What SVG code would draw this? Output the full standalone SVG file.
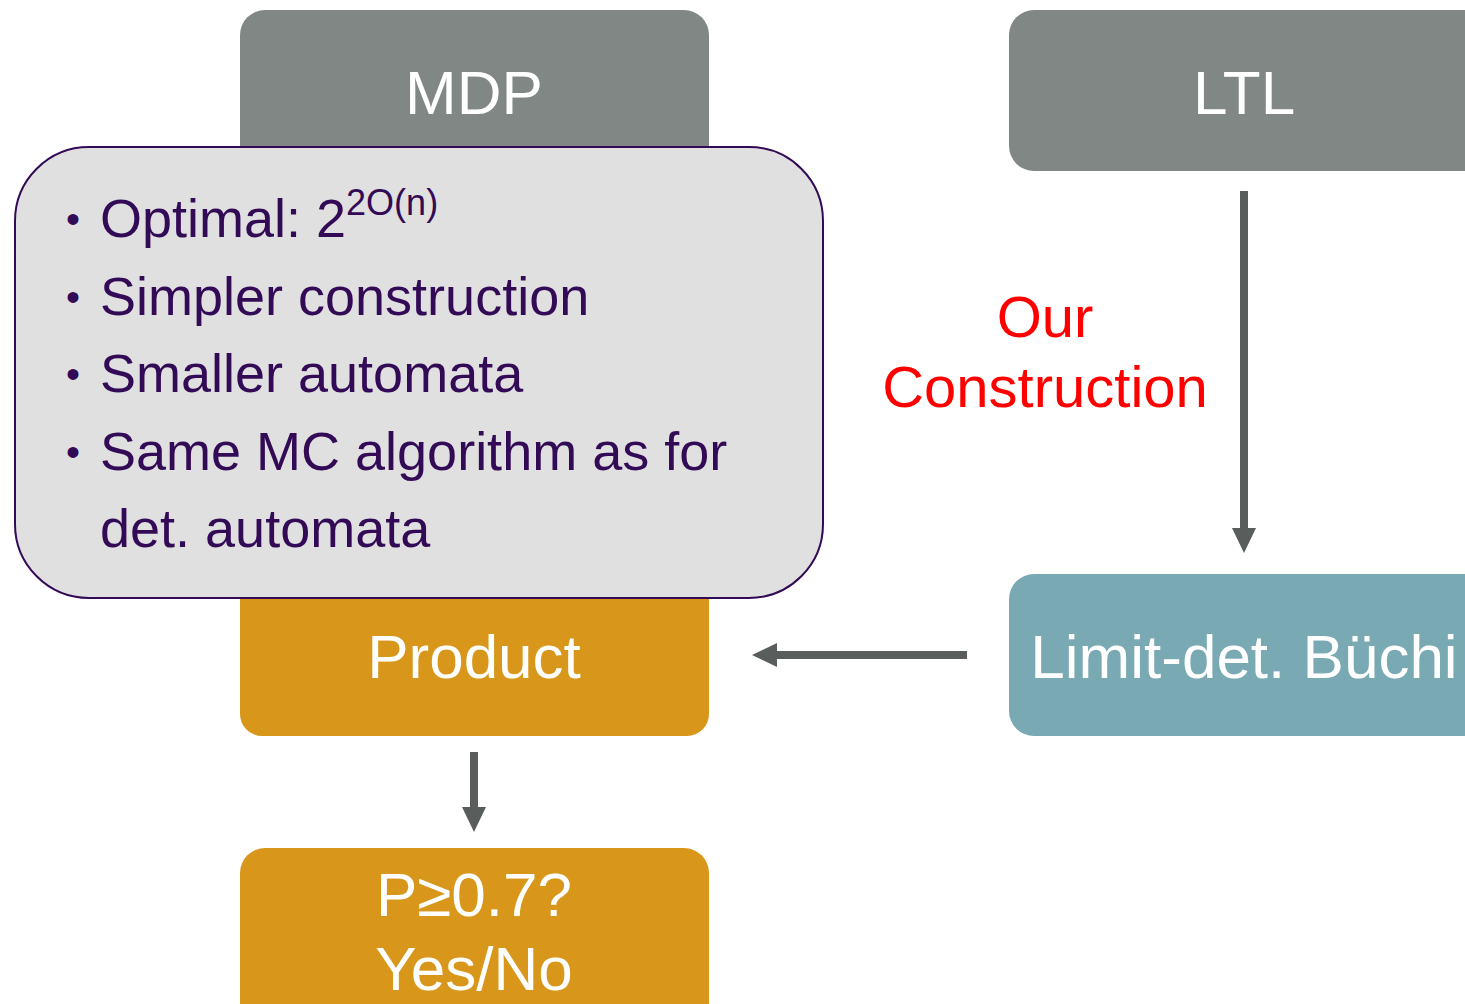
<svg xmlns="http://www.w3.org/2000/svg" width="1465" height="1004" viewBox="0 0 1465 1004">
  <style>
    .box-grey { fill: #818784; }
    .box-gold { fill: #d8971a; }
    .box-teal { fill: #79a9b2; }
    .label { font-family: "Liberation Sans", Arial, sans-serif; fill: #ffffff; text-anchor: middle; font-size: 62px; }
    .bullet { font-family: "Liberation Sans", Arial, sans-serif; fill: #330a55; font-size: 54px; }
    .dot { font-family: "Liberation Sans", Arial, sans-serif; fill: #330a55; font-size: 40px; }
    .red { font-family: "Liberation Sans", Arial, sans-serif; fill: #ff0000; font-size: 58px; text-anchor: middle; }
    .conn { stroke: #595e5c; stroke-width: 8; fill: none; }
  </style>
  <defs>
    <!-- arrowhead drawn from its base; the line ends where the head begins -->
    <marker id="arrow" markerUnits="userSpaceOnUse" viewBox="0 0 25 24" markerWidth="25" markerHeight="24" refX="0" refY="12" orient="auto" overflow="visible">
      <path d="M0,0 L25,12 L0,24 Z" fill="#595e5c"/>
    </marker>
  </defs>

  <rect width="1465" height="1004" fill="#ffffff"/>

  <!-- MDP -->
  <g id="mdp">
    <rect class="box-grey" x="240" y="10" width="469" height="170" rx="25"/>
    <text class="label" x="474" y="114" font-size="61">MDP</text>
  </g>

  <!-- LTL -->
  <g id="ltl">
    <rect class="box-grey" x="1009" y="10" width="490" height="161" rx="25"/>
    <text class="label" x="1244" y="114" font-size="61">LTL</text>
  </g>

  <!-- Product -->
  <g id="product">
    <rect class="box-gold" x="240" y="560" width="469" height="176" rx="22"/>
    <text class="label" x="474" y="678">Product</text>
  </g>

  <!-- Limit-deterministic Büchi automaton -->
  <g id="ldba">
    <rect class="box-teal" x="1009" y="574" width="490" height="162" rx="25"/>
    <text class="label" x="1244" y="678">Limit-det. Büchi</text>
  </g>

  <!-- Result -->
  <g id="result">
    <rect class="box-gold" x="240" y="848" width="469" height="190" rx="25"/>
    <text class="label" x="474" y="916">P≥0.7?</text>
    <text class="label" x="474" y="990" font-size="63">Yes/No</text>
  </g>

  <!-- Callout with the advantages -->
  <g id="notes">
    <rect x="15" y="147" width="808" height="451" rx="74" fill="#e0e0e0" stroke="#330a55" stroke-width="2"/>
    <text class="dot" x="66" y="233">•</text>
    <text class="bullet" x="100" y="237">Optimal: 2<tspan font-size="36" dy="-22">2O(n)</tspan></text>
    <text class="dot" x="66" y="311">•</text>
    <text class="bullet" x="100" y="315">Simpler construction</text>
    <text class="dot" x="66" y="388">•</text>
    <text class="bullet" x="100" y="392">Smaller automata</text>
    <text class="dot" x="66" y="466">•</text>
    <text class="bullet" x="100" y="470">Same MC algorithm as for</text>
    <text class="bullet" x="100" y="547">det. automata</text>
  </g>

  <!-- Edge label -->
  <g id="construction-label">
    <text class="red" x="1045" y="337">Our</text>
    <text class="red" x="1045" y="407">Construction</text>
  </g>

  <!-- Connectors -->
  <g id="connectors">
    <line class="conn" x1="1244" y1="191" x2="1244" y2="528" marker-end="url(#arrow)"/>
    <line class="conn" x1="967" y1="655" x2="777" y2="655" marker-end="url(#arrow)"/>
    <line class="conn" x1="474" y1="752" x2="474" y2="807" marker-end="url(#arrow)"/>
  </g>
</svg>
